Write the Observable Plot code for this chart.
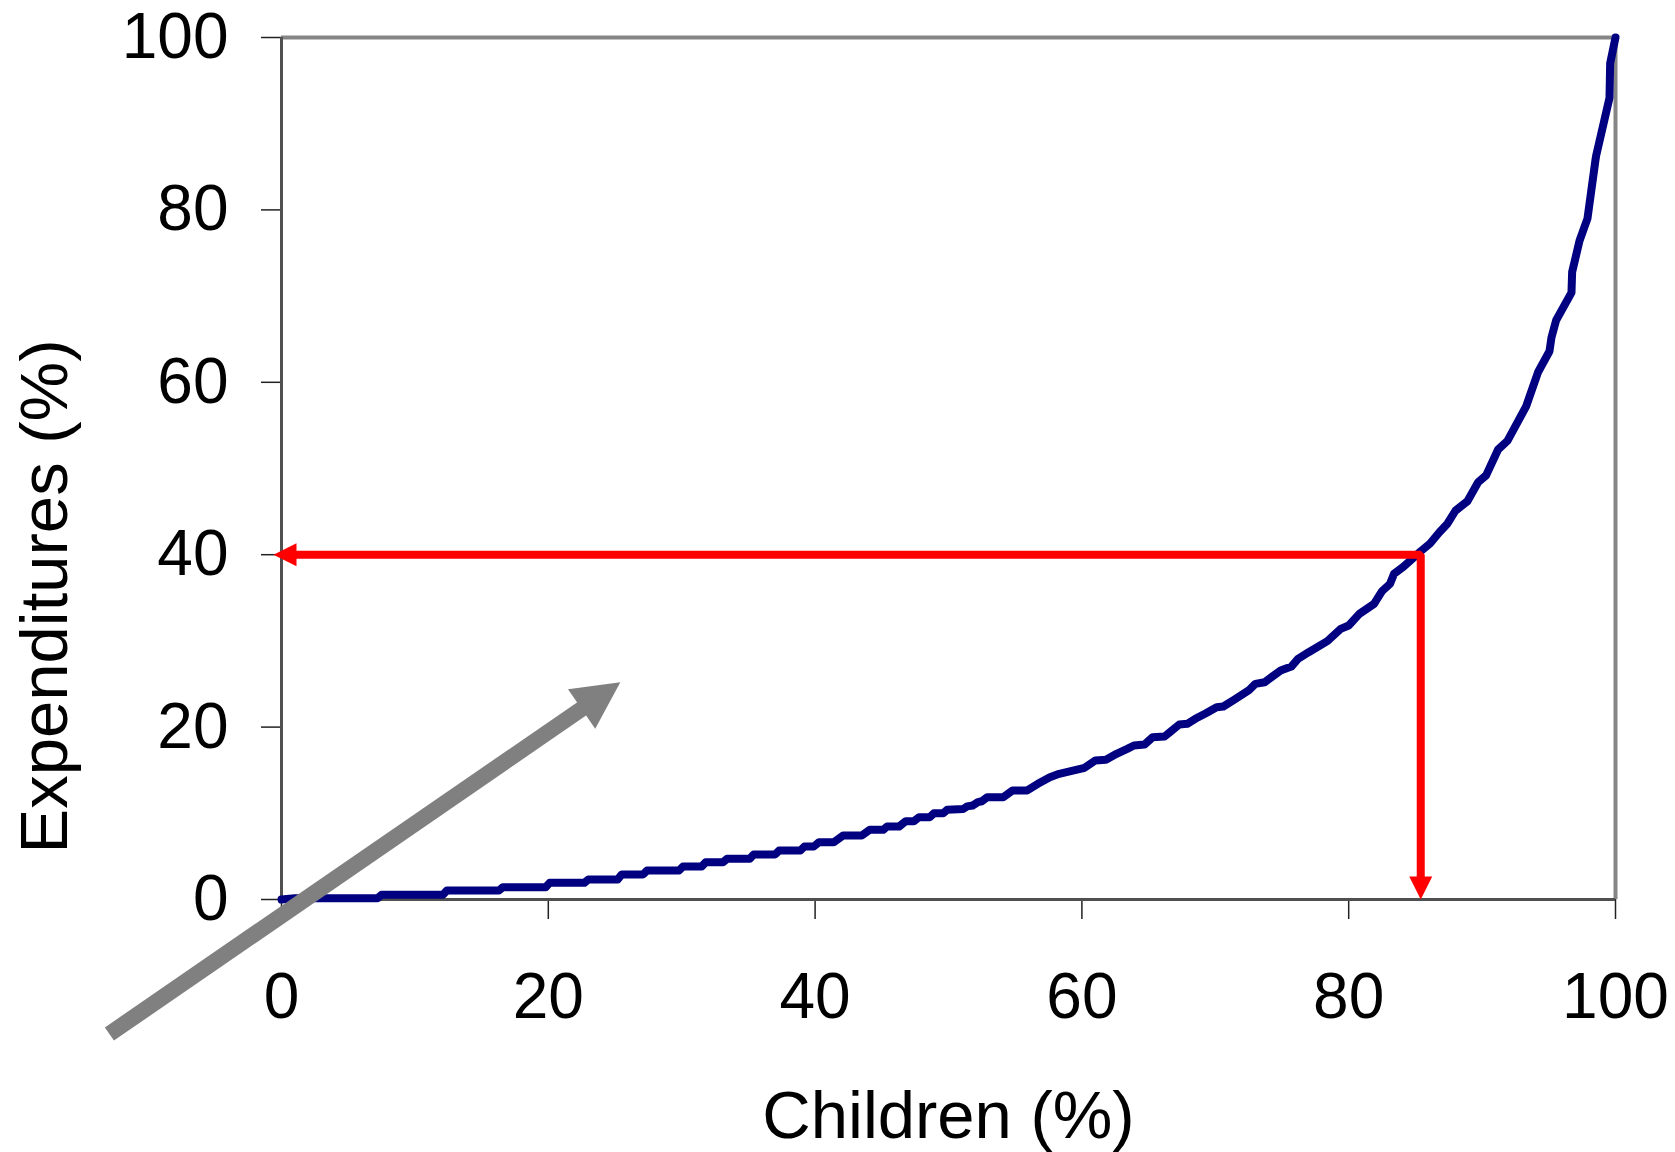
<!DOCTYPE html>
<html>
<head>
<meta charset="utf-8">
<script src="https://cdn.jsdelivr.net/npm/d3@7"></script>
<script src="https://cdn.jsdelivr.net/npm/@observablehq/plot@0.6"></script>
<style>
  html, body { margin: 0; padding: 0; background: #fff; }
  #chart svg { display: block; overflow: visible; }
</style>
</head>
<body>
<div id="chart"></div>
<script>
// ---- data ----
const childrenPct = [
  0, 1.0, 7.2, 7.5, 12.1, 12.4, 16.3, 16.6, 19.8, 20.1, 22.7, 23.0, 25.2, 25.5,
  27.1, 27.4, 29.8, 30.1, 31.5, 31.8, 33.1, 33.4, 35.1, 35.4, 37.0, 37.3, 38.9, 39.2,
  39.9, 40.3, 41.4, 42.1, 43.5, 44.1, 45.1, 45.4, 46.3, 46.8, 47.4, 47.8, 48.6, 48.9,
  49.6, 49.9, 51.1, 51.4, 51.8, 52.2, 52.5, 52.9, 54.1, 54.8, 55.9, 56.7, 57.6, 58.3,
  59.4, 60.2, 61.0, 61.8, 62.6, 63.4, 63.9, 64.7, 65.3, 66.2, 66.6, 67.3, 67.9, 68.5,
  69.3, 70.1, 70.6, 71.4, 72.5, 73.0, 73.7, 74.9, 75.7, 76.2, 77.0, 78.4, 79.4, 80.0,
  80.8, 81.9, 82.5, 83.1, 83.4, 84.1, 84.9, 85.4, 86.1, 86.8, 87.4, 88.0, 88.9, 89.7,
  90.3, 91.2, 91.9, 93.3, 94.2, 95.05, 95.2, 95.55, 96.7, 96.75, 97.3, 97.9, 98.5, 98.55,
  99.55, 99.6, 100
];
const expendituresPct = [
  0, 0.15, 0.15, 0.55, 0.55, 1.04, 1.04, 1.43, 1.43, 1.93, 1.93, 2.32, 2.32, 2.90,
  2.90, 3.36, 3.36, 3.83, 3.83, 4.33, 4.33, 4.72, 4.72, 5.22, 5.22, 5.68, 5.68, 6.15,
  6.15, 6.65, 6.65, 7.42, 7.42, 8.08, 8.08, 8.47, 8.47, 9.08, 9.08, 9.55, 9.55, 10.0,
  10.0, 10.4, 10.5, 10.8, 10.9, 11.3, 11.4, 11.85, 11.87, 12.65, 12.65, 13.42, 14.19, 14.58,
  14.97, 15.28, 16.13, 16.2, 16.9, 17.48, 17.87, 17.98, 18.83, 18.91, 19.41, 20.3, 20.38, 20.96,
  21.61, 22.31, 22.39, 23.16, 24.25, 25.02, 25.21, 26.57, 27.03, 27.92, 28.69, 29.97, 31.4, 31.79,
  33.14, 34.3, 35.77, 36.62, 37.8, 38.6, 39.7, 40.4, 41.3, 42.6, 43.6, 45.1, 46.2, 48.4,
  49.2, 52.2, 53.2, 57.2, 61.2, 63.6, 65.2, 67.2, 70.4, 72.8, 76.4, 79.0, 85.8, 86.3,
  93.0, 97.0, 100
];
const xTicks = [0, 20, 40, 60, 80, 100];
const yTicks = [0, 20, 40, 60, 80, 100];
const xLabel = "Children (%)";
const yLabel = "Expenditures (%)";

// red reading guide: point on the curve, and where its two arrows end
const guideX = 85.4;
const guideY = 40;
const guideLeftTipX = -0.6;
const guideDownTipY = 0;

// grey diagonal arrow (tail, tip)
const diagX = [-12.9, 25.4];
const diagY = [-15.6, 25.2];

// ---- layout ----
const W = 1675, H = 1152;
const mL = 281, mR = 60, mT = 37, mB = 253;
const kx = (W - mL - mR) / 100;   // px per x unit
const ky = (H - mT - mB) / 100;   // px per y unit
const TICK_FONT = 64;
const TITLE_FONT = 67;

const curve = childrenPct.map((x, i) => ({x, y: expendituresPct[i]}));

// arrow-head symbol: tip at origin, pointing up
const headSymbol = (len, half) => ({
  draw(ctx) { ctx.moveTo(0, 0); ctx.lineTo(half, len); ctx.lineTo(-half, len); ctx.closePath(); }
});
const redHeadLen = 23, redHeadHalf = 11.5;
const grayHeadLen = 47, grayHeadHalf = 24;

// red guide shaft (ends just inside the arrow heads)
const redShaft = [
  {x: guideLeftTipX + (redHeadLen * 0.7) / kx, y: guideY},
  {x: guideX, y: guideY},
  {x: guideX, y: guideDownTipY + (redHeadLen * 0.7) / ky}
];
const redHeads = [
  {x: guideLeftTipX, y: guideY, r: -90},
  {x: guideX, y: guideDownTipY, r: 180}
];

// grey arrow geometry
const gdx = (diagX[1] - diagX[0]) * kx, gdy = (diagY[1] - diagY[0]) * ky;
const glen = Math.hypot(gdx, gdy);
const gAngle = Math.atan2(gdx, gdy) * 180 / Math.PI;
const gBack = grayHeadLen * 0.75;
const grayShaft = [{
  x1: diagX[0], y1: diagY[0],
  x2: diagX[1] - (gdx / glen) * gBack / kx,
  y2: diagY[1] - (gdy / glen) * gBack / ky
}];
const grayHead = [{x: diagX[1], y: diagY[1], r: gAngle}];

const chart = Plot.plot({
  width: W,
  height: H,
  marginLeft: mL,
  marginRight: mR,
  marginTop: mT,
  marginBottom: mB,
  style: {fontFamily: "'Liberation Sans', Arial, sans-serif", fontSize: TICK_FONT + "px", background: "#fff", color: "#000", overflow: "visible"},
  x: {domain: [0, 100]},
  y: {domain: [0, 100]},
  marks: [
    Plot.axisX({ticks: xTicks, tickSize: 20, tickPadding: 53, fontSize: TICK_FONT, label: null, stroke: "#222", strokeWidth: 1.5}),
    Plot.axisY({ticks: yTicks, tickSize: 20, tickPadding: 33, fontSize: TICK_FONT, label: null, stroke: "#222", strokeWidth: 1.5}),
    // plot-area border
    Plot.ruleY([100], {stroke: "#858585", strokeWidth: 4}),
    Plot.ruleX([100], {stroke: "#858585", strokeWidth: 4}),
    Plot.ruleX([0], {stroke: "#505050", strokeWidth: 3}),
    Plot.ruleY([0], {stroke: "#505050", strokeWidth: 3}),
    // concentration curve
    Plot.line(curve, {x: "x", y: "y", stroke: "#000080", strokeWidth: 8, strokeLinejoin: "round", strokeLinecap: "round"}),
    // red guide
    Plot.line(redShaft, {x: "x", y: "y", stroke: "#ff0000", strokeWidth: 8, strokeLinejoin: "miter", strokeLinecap: "butt"}),
    Plot.dot(redHeads, {x: "x", y: "y", rotate: "r", symbol: headSymbol(redHeadLen, redHeadHalf), fill: "#ff0000", stroke: "none"}),
    // grey diagonal arrow
    Plot.link(grayShaft, {x1: "x1", y1: "y1", x2: "x2", y2: "y2", stroke: "#808080", strokeWidth: 16, strokeLinecap: "butt"}),
    Plot.dot(grayHead, {x: "x", y: "y", rotate: "r", symbol: headSymbol(grayHeadLen, grayHeadHalf), fill: "#808080", stroke: "none"}),
    // axis titles
    Plot.text([xLabel], {text: d => d, frameAnchor: "bottom", textAnchor: "middle", lineAnchor: "bottom", dy: 238, fontSize: TITLE_FONT, fill: "#000"}),
    Plot.text([yLabel], {text: d => d, frameAnchor: "left", textAnchor: "middle", lineAnchor: "middle", dx: -236, dy: 128, rotate: -90, fontSize: TITLE_FONT, fill: "#000"})
  ]
});
document.getElementById("chart").appendChild(chart);
</script>
</body>
</html>
